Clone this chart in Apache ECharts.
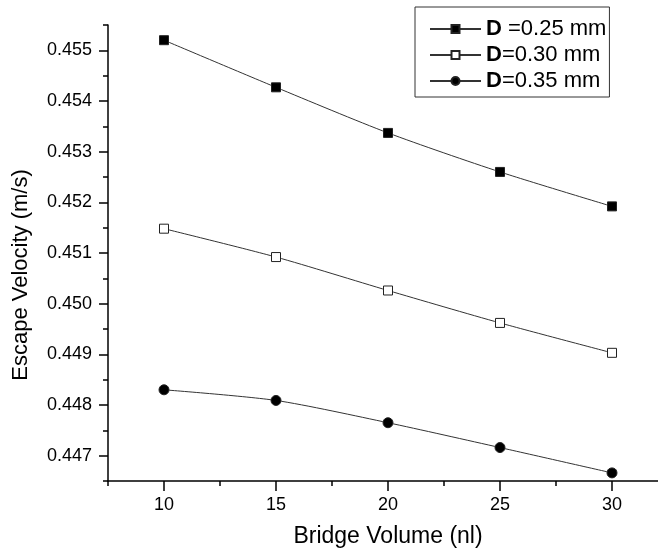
<!DOCTYPE html>
<html>
<head>
<meta charset="utf-8">
<script src="https://cdn.jsdelivr.net/npm/echarts@6/dist/echarts.min.js"></script>
<style>
  html, body { margin: 0; padding: 0; background: #fff; }
  #chart { width: 658px; height: 553px; }
</style>
</head>
<body>
<div id="chart"></div>
<script>
const volumes = [10, 15, 20, 25, 30]
const d025 = [0.4552, 0.45427, 0.45337, 0.4526, 0.45192]
const d030 = [0.45148, 0.45092, 0.45026, 0.44962, 0.44903]
const d035 = [0.4483, 0.44809, 0.44765, 0.44716, 0.44666]
const xTickLabels = [10, 15, 20, 25, 30]
const yTickLabels = [0.447, 0.448, 0.449, 0.450, 0.451, 0.452, 0.453, 0.454, 0.455]
const seriesNames = ['D =0.25 mm', 'D=0.30 mm', 'D=0.35 mm']

const font = 'Liberation Sans, Arial, sans-serif'
const chart = echarts.init(document.getElementById('chart'))

const pairs = arr => volumes.map((v, i) => [v, arr[i]])

const lineSeries = (name, data, symbol, fill) => ({
  name: name,
  type: 'line',
  data: pairs(data),
  smooth: 0.25,
  symbol: symbol,
  symbolSize: symbol === 'circle' ? 10 : 9,
  lineStyle: { color: '#333', width: 1 },
  itemStyle: { color: fill, borderColor: '#222', borderWidth: 1 },
  emphasis: { disabled: true }
})

const option = {
  animation: false,
  textStyle: { fontFamily: font },
  // x axis runs past the right edge of the picture (cropped at 32.5)
  grid: { left: 108, width: 560, top: 25, bottom: 72, outerBoundsMode: 'none' },
  legend: {
    orient: 'vertical',
    left: 415,
    top: 7,
    padding: [11, 3, 5, 14],
    itemGap: 4,
    itemWidth: 51,
    itemHeight: 10,
    borderColor: '#333',
    borderWidth: 1,
    data: seriesNames,
    formatter: n => '{b|D}' + n.slice(1),
    textStyle: {
      fontSize: 22,
      color: '#000',
      fontFamily: font,
      rich: { b: { fontWeight: 'bold', fontSize: 22, fontFamily: font } }
    }
  },
  xAxis: [
    {
      type: 'value',
      min: 7.5,
      max: 32.5,
      interval: 2.5,
      position: 'bottom',
      name: 'Bridge Volume (nl)',
      nameLocation: 'middle',
      nameGap: 44,
      nameTextStyle: { fontSize: 23, color: '#000' },
      axisLine: { lineStyle: { color: '#000', width: 1.5 } },
      axisTick: { length: 5, lineStyle: { color: '#000', width: 1.5 } },
      axisLabel: { show: false },
      splitLine: { show: false }
    },
    {
      type: 'value',
      min: 7.5,
      max: 32.5,
      interval: 2.5,
      position: 'bottom',
      axisLine: { show: false },
      axisTick: { length: 10, customValues: xTickLabels, lineStyle: { color: '#000', width: 1.5 } },
      axisLabel: { customValues: xTickLabels, fontSize: 18, color: '#000', margin: 15 },
      splitLine: { show: false }
    }
  ],
  yAxis: [
    {
      type: 'value',
      min: 0.4465,
      max: 0.4555,
      interval: 0.0005,
      position: 'left',
      name: 'Escape Velocity (m/s)',
      nameLocation: 'middle',
      nameGap: 76,
      nameTextStyle: { fontSize: 22, color: '#000', padding: [0, 44, 0, 0] },
      axisLine: { lineStyle: { color: '#000', width: 1.5 } },
      axisTick: { length: 5, lineStyle: { color: '#000', width: 1.5 } },
      axisLabel: { show: false },
      splitLine: { show: false }
    },
    {
      type: 'value',
      min: 0.4465,
      max: 0.4555,
      interval: 0.0005,
      position: 'left',
      axisLine: { show: false },
      axisTick: { length: 9, customValues: yTickLabels, lineStyle: { color: '#000', width: 1.5 } },
      axisLabel: {
        customValues: yTickLabels,
        fontSize: 18,
        color: '#000',
        margin: 16,
        formatter: v => v.toFixed(3)
      },
      splitLine: { show: false }
    }
  ],
  series: [
    lineSeries(seriesNames[0], d025, 'rect', '#000'),
    lineSeries(seriesNames[1], d030, 'rect', '#fff'),
    lineSeries(seriesNames[2], d035, 'circle', '#000')
  ]
}

chart.setOption(option)
</script>
</body>
</html>
